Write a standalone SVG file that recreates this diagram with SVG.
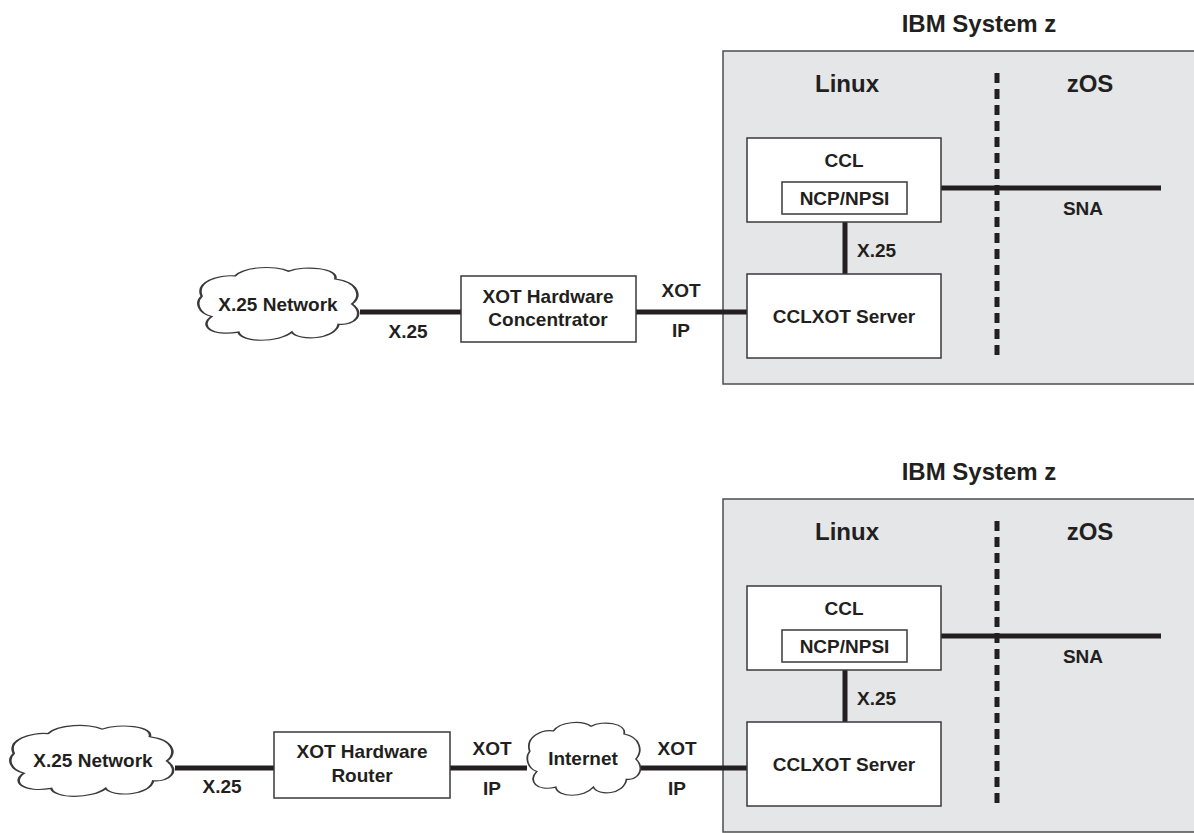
<svg xmlns="http://www.w3.org/2000/svg" width="1194" height="833" viewBox="0 0 1194 833">
<style>
text{font-family:"Liberation Sans",Arial,sans-serif;font-weight:bold;fill:#231f20;font-size:19px;text-anchor:middle}
.h{font-size:24px}
.sys{fill:#e5e6e7;stroke:#4d4d4f;stroke-width:1.5}
.box{fill:#fff;stroke:#3a3a3c;stroke-width:1.5}
.cloud{fill:#fff;stroke:#3a3a3c;stroke-width:1.5}
.ln{stroke:#231f20;stroke-width:5;fill:none}
.dash{stroke:#231f20;stroke-width:5;stroke-dasharray:10 6;fill:none}
</style>
<defs>
<path id="cl" d="M4,40 C0,22 14,12 24,14 C30,2 48,0 56,8 C66,0 86,4 84,18 C98,22 100,40 94,50 C102,62 96,78 86,76 C84,96 62,98 58,86 C50,100 28,100 26,86 C10,92 2,78 10,66 C2,62 0,48 4,40 Z"/>
</defs>

<g id="system1">
<text class="h" x="979" y="32">IBM System z</text>
<rect class="sys" x="723" y="51" width="500" height="333"/>
<text class="h" x="847" y="92">Linux</text>
<text class="h" x="1090" y="92">zOS</text>
</g>
<g id="system2">
<text class="h" x="979" y="480">IBM System z</text>
<rect class="sys" x="723" y="499" width="500" height="333"/>
<text class="h" x="847" y="540">Linux</text>
<text class="h" x="1090" y="540">zOS</text>
</g>

<g id="connectors">
<line class="dash" x1="997" y1="73" x2="997" y2="355"/>
<line class="ln" x1="941" y1="188" x2="1161" y2="188"/>
<line class="ln" x1="845" y1="222" x2="845" y2="274"/>
<line class="ln" x1="360" y1="312" x2="461" y2="312"/>
<line class="ln" x1="636" y1="312" x2="747" y2="312"/>
<line class="dash" x1="997" y1="521" x2="997" y2="803"/>
<line class="ln" x1="941" y1="636" x2="1161" y2="636"/>
<line class="ln" x1="845" y1="670" x2="845" y2="722"/>
<line class="ln" x1="175" y1="768" x2="274" y2="768"/>
<line class="ln" x1="450" y1="768" x2="527" y2="768"/>
<line class="ln" x1="641" y1="768" x2="747" y2="768"/>
</g>

<g id="labels">
<text x="1083" y="215">SNA</text>
<text x="857" y="257" style="text-anchor:start">X.25</text>
<text x="408" y="338">X.25</text>
<text x="681" y="297">XOT</text>
<text x="681" y="337">IP</text>
<text x="1083" y="663">SNA</text>
<text x="857" y="705" style="text-anchor:start">X.25</text>
<text x="222" y="793">X.25</text>
<text x="492" y="755">XOT</text>
<text x="492" y="795">IP</text>
<text x="677" y="755">XOT</text>
<text x="677" y="795">IP</text>
</g>

<g id="ccl1">
<rect class="box" x="747" y="138" width="194" height="84"/>
<text x="844" y="167">CCL</text>
</g>
<g id="ncp1">
<rect class="box" x="782" y="182" width="125" height="32"/>
<text x="844.5" y="205">NCP/NPSI</text>
</g>
<g id="cclxot1">
<rect class="box" x="747" y="274" width="194" height="84"/>
<text x="844" y="323">CCLXOT Server</text>
</g>
<g id="x25net1">
<use href="#cl" class="cloud" transform="translate(195,265) scale(1.67,0.78)" vector-effect="non-scaling-stroke" style="vector-effect:non-scaling-stroke"/>
<text x="278" y="311">X.25 Network</text>
</g>
<g id="concentrator">
<rect class="box" x="461" y="276" width="175" height="66"/>
<text x="548" y="303">XOT Hardware</text>
<text x="548" y="326">Concentrator</text>
</g>

<g id="ccl2">
<rect class="box" x="747" y="586" width="194" height="84"/>
<text x="844" y="615">CCL</text>
</g>
<g id="ncp2">
<rect class="box" x="782" y="630" width="125" height="32"/>
<text x="844.5" y="653">NCP/NPSI</text>
</g>
<g id="cclxot2">
<rect class="box" x="747" y="722" width="194" height="84"/>
<text x="844" y="771">CCLXOT Server</text>
</g>
<g id="x25net2">
<use href="#cl" class="cloud" transform="translate(7,723) scale(1.70,0.76)" style="vector-effect:non-scaling-stroke"/>
<text x="93" y="767">X.25 Network</text>
</g>
<g id="router">
<rect class="box" x="274" y="732" width="176" height="66"/>
<text x="362" y="758">XOT Hardware</text>
<text x="362" y="782">Router</text>
</g>
<g id="internet">
<use href="#cl" class="cloud" transform="translate(525,720) scale(1.18,0.78)" style="vector-effect:non-scaling-stroke"/>
<text x="583" y="765">Internet</text>
</g>
</svg>
